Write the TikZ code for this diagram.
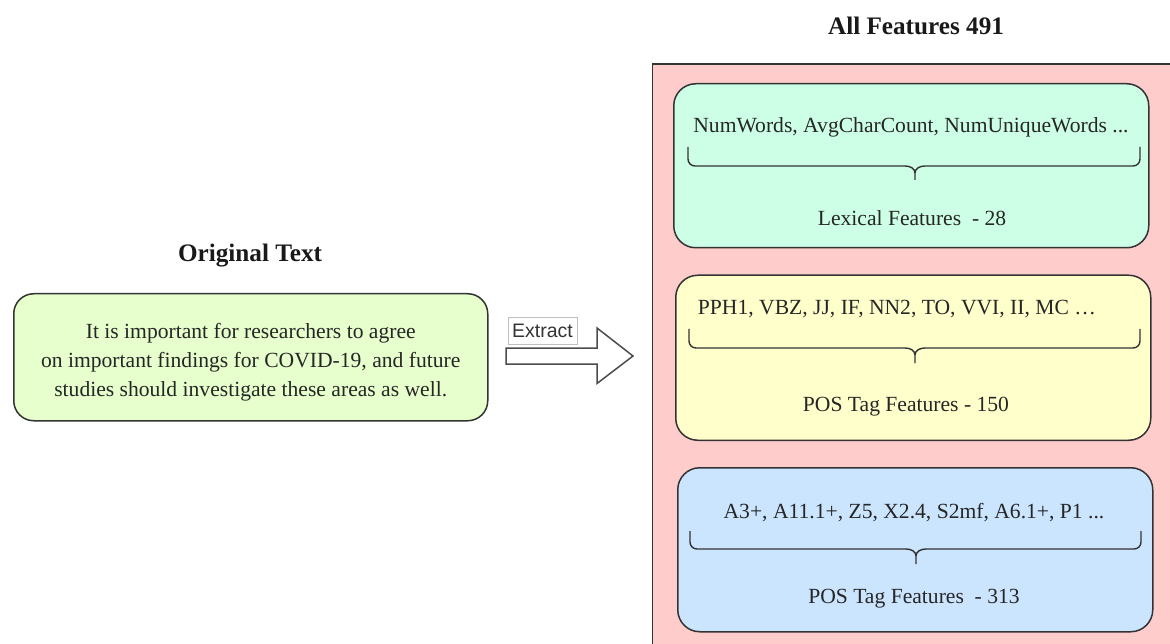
\documentclass[tikz,border=0pt]{standalone}
\usepackage{fontspec}
\setmainfont{Liberation Serif}
\newfontfamily\arialfont{Liberation Sans}
\definecolor{pinkbg}{HTML}{FFCCCC}
\definecolor{mintbg}{HTML}{CCFFE6}
\definecolor{yellowbg}{HTML}{FFFFCC}
\definecolor{bluebg}{HTML}{CCE5FF}
\definecolor{limebg}{HTML}{E6FFCC}
\definecolor{edge}{HTML}{333333}
\tikzset{
  featbox/.style={draw=edge, line width=1.5pt, rounded corners=22pt, anchor=north west, inner sep=0pt},
  bodytext/.style={font=\fontsize{21.6}{29}\selectfont, text=black!85, inner sep=0pt, align=center},
  titletext/.style={font=\fontsize{25.2}{30}\selectfont\bfseries, text=black!90, inner sep=0pt},
  bracestyle/.style={draw=edge, line width=1.4pt},
}
\newcommand\featbrace[6]{%
  \draw[bracestyle] (#1,#4) -- (#1,#5-7) to[out=-90,in=180] (#1+7,#5) -- (#3-10,#5) to[out=0,in=90] (#3,#5+7) -- (#3,#6);
  \draw[bracestyle] (#2,#4) -- (#2,#5-7) to[out=-90,in=0] (#2-7,#5) -- (#3+10,#5) to[out=180,in=90] (#3,#5+7);
}
\begin{document}
\begin{tikzpicture}[x=1pt,y=-1pt]
\useasboundingbox (0,0) rectangle (1170,644);
\begin{scope}
\clip (0,0) rectangle (1170,644);
\draw[fill=pinkbg, draw=edge, line width=1.5pt] (652.5,64) rectangle (1185,660);
\end{scope}

% titles
\node[titletext] (alltitle) at (916,26) {All Features 491};
\node[titletext] (origtitle) at (250,256) {Original Text};

% feature boxes
\node[featbox, fill=mintbg, minimum width=475pt, minimum height=164pt] (lex) at (673,83) {};
\node[featbox, fill=yellowbg, minimum width=475pt, minimum height=165pt] (pos) at (675,274.5) {};
\node[featbox, fill=bluebg, minimum width=475pt, minimum height=164pt] (sem) at (677,467) {};

% lexical
\node[bodytext] (lextop) at (911,127.5) {NumWords, AvgCharCount, NumUniqueWords ...};
\featbrace{688}{1140}{915}{147}{166}{180}
\node[bodytext] (lexbot) at (912,218.5) {Lexical Features\ \ - 28};

% pos
\node[bodytext] (postop) at (897,309) {PPH1, VBZ, JJ, IF, NN2, TO, VVI, II, MC …};
\featbrace{689}{1140}{915}{329}{348}{363}
\node[bodytext] (posbot) at (906,407) {POS Tag Features - 150};

% semantic
\node[bodytext] (semtop) at (914,513) {A3+, A11.1+, Z5, X2.4, S2mf, A6.1+, P1 ...};
\featbrace{690}{1141}{916}{531}{549}{564}
\node[bodytext] (sembot) at (914,599) {POS Tag Features\ \ - 313};

% original text
\node[featbox, fill=limebg, rounded corners=20pt, minimum width=474pt, minimum height=127pt] (orig) at (13,293) {};
\node[bodytext] (origtext) at ([yshift=-5pt]orig.center) {It is important for researchers to agree\\on important findings for COVID-19, and future\\studies should investigate these areas as well.};

% arrow
\draw[draw=black!70, fill=white, line width=1.5pt] (506,348) -- (597,348) -- (597,328) -- (633,356) -- (597,383.5) -- (597,364) -- (506,364) -- cycle;
\node[draw=black!25, fill=white, line width=0.6pt, minimum width=69pt, minimum height=27pt, inner sep=0pt,
      font=\arialfont\fontsize{19.5}{22}\selectfont, text=black!80] (extract) at (542.5,330.5) {Extract};
\end{tikzpicture}
\end{document}
